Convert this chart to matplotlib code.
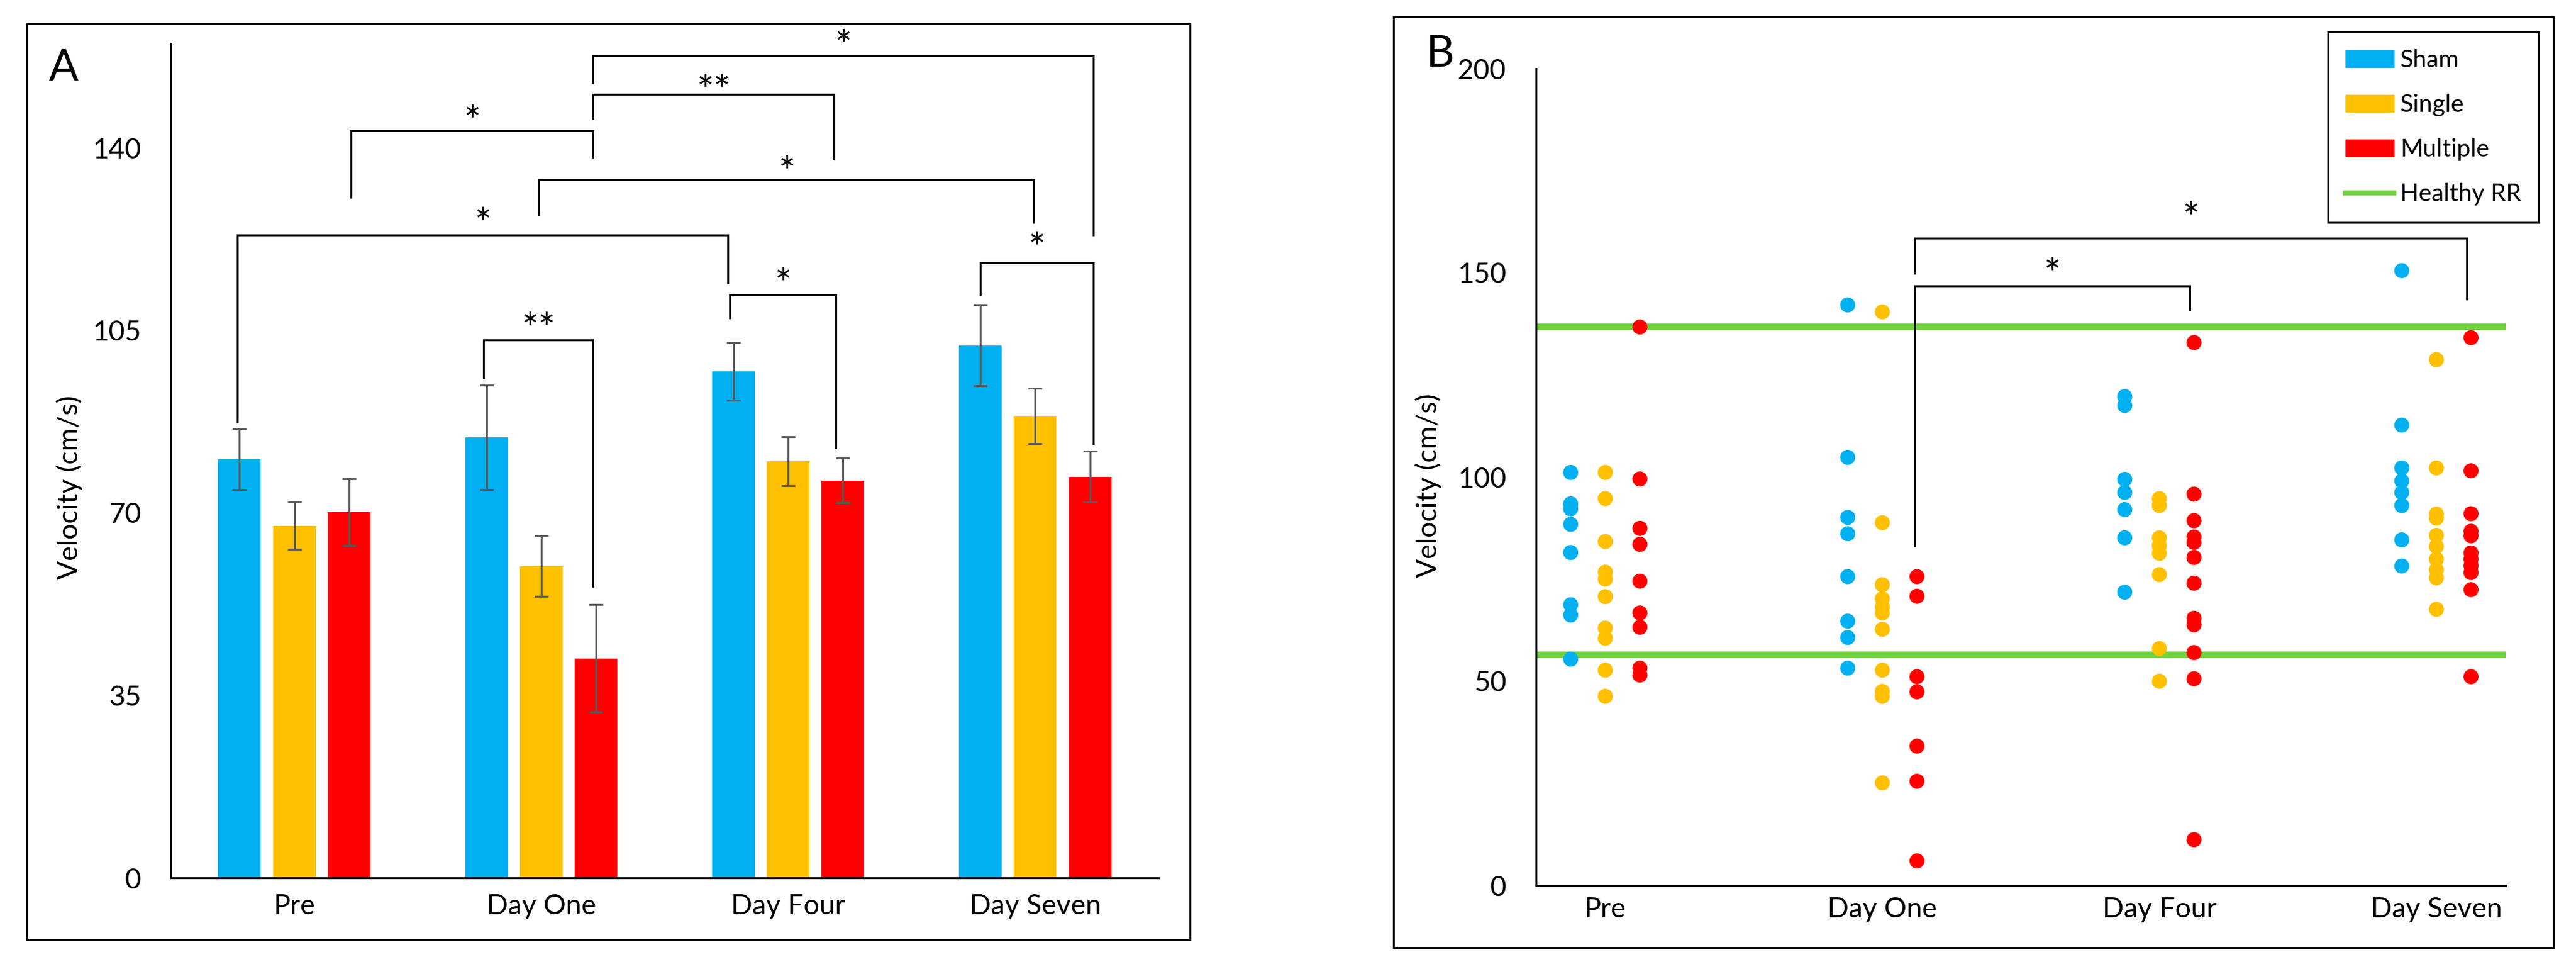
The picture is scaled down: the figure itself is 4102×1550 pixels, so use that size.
import matplotlib
matplotlib.use("Agg")
import matplotlib.pyplot as plt
from matplotlib.patches import Rectangle, Patch
from matplotlib.lines import Line2D
import matplotlib.transforms as mtransforms

plt.rcParams["font.family"] = ["Lato", "DejaVu Sans"]

# ---- data ----
days = ["Pre", "Day One", "Day Four", "Day Seven"]
groups = ["Sham", "Single", "Multiple"]
colors = ["#00B0F0", "#FFC000", "#FF0000"]
rr_color = "#6FD23C"

# panel A: mean velocity and error
sham_mean = [80.3, 84.4, 97.1, 102.1]
sham_err = [5.8, 10.0, 5.5, 7.8]
single_mean = [67.5, 59.8, 79.9, 88.5]
single_err = [4.5, 5.8, 4.7, 5.3]
multiple_mean = [70.1, 42.1, 76.2, 76.9]
multiple_err = [6.4, 10.3, 4.3, 4.9]

# panel A significance brackets: x_left, x_right, y_bar, y_left_end, y_right_end, label, y_label
brackets_a = [
    (1.209, 3.236, 157.6, 152.5, 123.3, "*", 161.2),
    (1.209, 2.185, 150.2, 145.5, 137.8, "**", 152.7),
    (0.229, 1.209, 143.3, 130.5, 138.2, "*", 146.7),
    (0.990, 2.995, 133.9, 127.1, 125.7, "*", 137.0),
    (-0.231, 1.755, 123.2, 87.3, 114.1, "*", 127.1),
    (0.767, 1.209, 103.1, 95.9, 55.9, "**", 107.0),
    (1.762, 2.194, 111.8, 107.3, 82.5, "*", 115.6),
    (2.777, 3.236, 117.9, 111.8, 83.2, "*", 122.4),
]

# panel B: individual values per day
sham_pts = [
    [101.1, 93.4, 92.2, 88.4, 81.5, 68.7, 66.2, 55.4],
    [142.1, 104.8, 90.1, 86.1, 75.6, 64.7, 60.7, 53.2],
    [119.7, 117.5, 99.4, 96.2, 92.0, 85.1, 71.8],
    [150.5, 112.7, 102.2, 99.0, 96.2, 93.0, 84.6, 78.2],
]
single_pts = [
    [101.1, 94.7, 84.2, 76.7, 75.0, 70.7, 63.0, 60.5, 52.7, 46.3],
    [140.4, 88.8, 73.6, 70.2, 68.2, 66.7, 62.7, 52.7, 47.5, 46.3, 25.1],
    [94.7, 93.0, 85.1, 83.2, 81.3, 76.1, 58.0, 50.0],
    [128.7, 102.2, 90.9, 89.9, 85.7, 83.0, 79.9, 77.3, 75.3, 67.6],
]
multiple_pts = [
    [136.7, 99.5, 87.4, 83.5, 74.5, 66.7, 63.2, 53.2, 51.5],
    [75.6, 70.8, 51.1, 47.4, 34.1, 25.5, 6.0],
    [132.9, 95.8, 89.3, 85.3, 84.0, 80.3, 74.0, 65.4, 63.8, 57.0, 50.6, 11.2],
    [134.1, 101.5, 91.0, 86.7, 85.6, 81.4, 79.9, 78.3, 76.6, 72.4, 51.1],
]
healthy_rr = [56.5, 136.7]

brackets_b = [
    (2.116, 4.109, 158.5, 149.9, 143.5, "*", 165.6),
    (2.116, 3.109, 146.7, 83.1, 140.9, "*", 151.9),
]

W, H = 4102, 1550
fig = plt.figure(figsize=(W / 100, H / 100), dpi=100)

def fx(px):
    return px / W

def fy(py):
    return 1 - py / H

# panel frames
for x0, y0, x1, y1 in [(43, 38, 1895, 1495), (2219, 27, 4066, 1508)]:
    fig.patches.append(Rectangle((fx(x0), fy(y1)), fx(x1) - fx(x0), fy(y0) - fy(y1),
                                 transform=fig.transFigure, fill=False,
                                 edgecolor="black", linewidth=2.2))

tick_fs = 32
lw = 2.2
star_fs = 46
star_dy = -13

# ---------------- panel A ----------------
ax = fig.add_axes([fx(272), fy(1397), fx(1845) - fx(272), fy(69) - fy(1397)])
width = 0.173
offs = [-0.222, 0.0, 0.222]
means = [sham_mean, single_mean, multiple_mean]
errs = [sham_err, single_err, multiple_err]
for i in range(3):
    xs = [d + offs[i] for d in range(len(days))]
    ax.bar(xs, means[i], width, color=colors[i], yerr=errs[i],
           error_kw=dict(ecolor="#595959", elinewidth=2.2, capsize=8, capthick=2.2))

ax.set_xlim(-0.5, 3.5)
ax.set_ylim(0, 160)
ax.set_yticks([0, 35, 70, 105, 140])
ax.set_xticks(range(len(days)))
ax.set_xticklabels(days)
ax.tick_params(length=0, labelsize=tick_fs)
ax.tick_params(axis="y", pad=34)
ax.tick_params(axis="x", pad=18)
for s in ["top", "right"]:
    ax.spines[s].set_visible(False)
for s in ["left", "bottom"]:
    ax.spines[s].set_linewidth(lw)
ax.set_ylabel("Velocity (cm/s)", fontsize=32, va="center")
ax.yaxis.set_label_coords(-0.1024, 0.4676)

star_shift = mtransforms.offset_copy(ax.transData, fig=fig, x=0, y=star_dy, units="points")
for xl, xr, yb, yl, yr, lab, ys in brackets_a:
    ax.plot([xl, xl, xr, xr], [yl, yb, yb, yr], color="black", lw=lw,
            solid_joinstyle="miter", clip_on=False)
    ax.text((xl + xr) / 2, ys, lab, ha="center", va="center", fontsize=star_fs,
            transform=star_shift, clip_on=False)

fig.text(fx(101), fy(108), "A", fontsize=50, ha="center", va="center")

# ---------------- panel B ----------------
bx = fig.add_axes([fx(2446), fy(1409), fx(3990) - fx(2446), fy(109) - fy(1409)])
for v in healthy_rr:
    bx.axhline(v, color=rr_color, lw=7.5, zorder=1)
pts = [sham_pts, single_pts, multiple_pts]
offs_b = [-0.125, 0.0, 0.125]
for i in range(3):
    for d, vals in enumerate(pts[i]):
        bx.scatter([d + 1 + offs_b[i]] * len(vals), vals, s=298, color=colors[i],
                   edgecolors="none", zorder=3)

bx.set_xlim(0.75, 4.25)
bx.set_ylim(0, 200)
bx.set_yticks([0, 50, 100, 150, 200])
bx.set_xticks([1, 2, 3, 4])
bx.set_xticklabels(days)
bx.tick_params(length=0, labelsize=tick_fs)
bx.tick_params(axis="y", pad=34)
bx.tick_params(axis="x", pad=13)
for s in ["top", "right"]:
    bx.spines[s].set_visible(False)
for s in ["left", "bottom"]:
    bx.spines[s].set_linewidth(lw)
bx.set_ylabel("Velocity (cm/s)", fontsize=32, va="center")
bx.yaxis.set_label_coords(-0.1108, 0.4892)

star_shift_b = mtransforms.offset_copy(bx.transData, fig=fig, x=0, y=star_dy, units="points")
for xl, xr, yb, yl, yr, lab, ys in brackets_b:
    bx.plot([xl, xl, xr, xr], [yl, yb, yb, yr], color="black", lw=lw,
            solid_joinstyle="miter", clip_on=False, zorder=2)
    bx.text((xl + xr) / 2, ys, lab, ha="center", va="center", fontsize=star_fs,
            transform=star_shift_b, clip_on=False)

handles = [Patch(color=c) for c in colors] + [Line2D([], [], color=rr_color, lw=5.8)]
leg = bx.legend(handles, groups + ["Healthy RR"], loc="upper right",
                bbox_to_anchor=(fx(4042), fy(51)), bbox_transform=fig.transFigure,
                fontsize=28, frameon=True, fancybox=False, edgecolor="black",
                framealpha=1, borderpad=0.7, labelspacing=0.9, handlelength=2.0,
                handletextpad=0.25, borderaxespad=0)
leg.get_frame().set_linewidth(lw)

fig.text(fx(2293), fy(86), "B", fontsize=50, ha="center", va="center")

fig.savefig("out.png", dpi=100)
